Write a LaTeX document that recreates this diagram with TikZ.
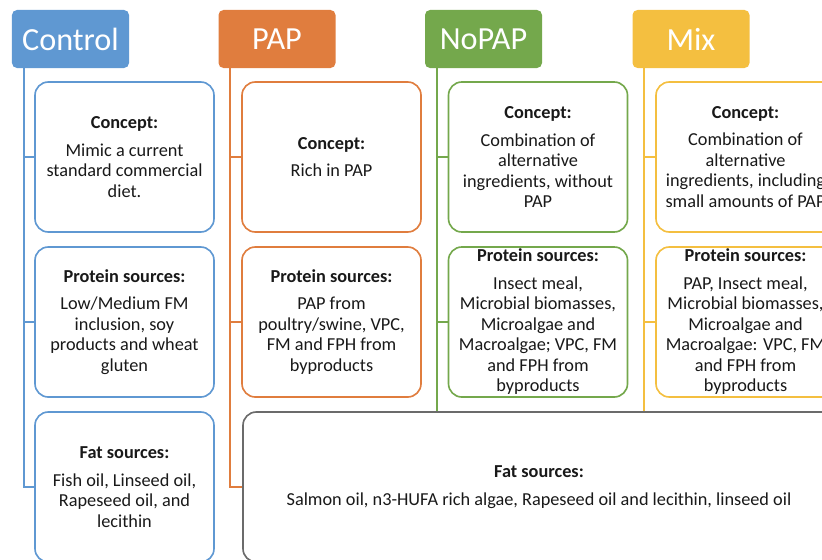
\documentclass[tikz,border=0pt]{standalone}
\usepackage{fontspec}
\setmainfont{Carlito}
\definecolor{ctrlblue}{HTML}{5F98D2}
\definecolor{paporange}{HTML}{E07D3E}
\definecolor{nopgreen}{HTML}{74A84C}
\definecolor{mixgold}{HTML}{F4BF40}
\definecolor{fatgray}{HTML}{6B6B6B}
\tikzset{
	head/.style={rounded corners=0.15cm,minimum width=3.51cm,minimum height=1.74cm,inner sep=0pt,text=white,font=\fontsize{27.5}{33}\selectfont},
	box/.style={draw,fill=white,line width=1.4pt,rounded corners=0.4cm,minimum width=5.37cm,minimum height=4.5cm,inner sep=0pt,align=center,text=black!90,font=\fontsize{15.6}{17.5}\selectfont},
	trunk/.style={line width=1.6pt},
}
\begin{document}
\begin{tikzpicture}[x=0.03cm,y=-0.03cm]
	\useasboundingbox (0,0) rectangle (822,559);
	\clip (0,0) rectangle (822,559);
	\node[head,fill=ctrlblue] (ctrl) at (70.5,39) {Control};
	\node[head,fill=paporange] (pap) at (277,39) {PAP};
	\node[head,fill=nopgreen] (nopap) at (483.5,39) {NoPAP};
	\node[head,fill=mixgold] (mix) at (691,39) {Mix};
	\coordinate (ctrlroot) at ([xshift=0.36cm]ctrl.south west);
	\coordinate (paproot) at ([xshift=0.36cm]pap.south west);
	\coordinate (noproot) at ([xshift=0.36cm]nopap.south west);
	\coordinate (mixroot) at ([xshift=0.36cm]mix.south west);
	\node[box,draw=ctrlblue] (ctrlconcept) at (124.5,157) {\textbf{Concept:}\\[6pt]Mimic a current\\standard commercial\\diet.};
	\node[box,draw=ctrlblue] (ctrlprot) at (124.5,322) {\textbf{Protein sources:}\\[6pt]Low/Medium FM\\inclusion, soy\\products and wheat\\gluten};
	\node[box,draw=ctrlblue] (ctrlfat) at (124.5,487) {\textbf{Fat sources:}\\[6pt]Fish oil, Linseed oil,\\Rapeseed oil, and\\lecithin};
	\node[box,draw=paporange] (papconcept) at (331.5,157) {\textbf{Concept:}\\[6pt]Rich in PAP};
	\node[box,draw=paporange] (papprot) at (331.5,322) {\textbf{Protein sources:}\\[6pt]PAP from\\poultry/swine, VPC,\\FM and FPH from\\byproducts};
	\node[box,draw=nopgreen] (nopconcept) at (538,157) {\textbf{Concept:}\\[6pt]Combination of\\alternative\\ingredients, without\\PAP};
	\node[box,draw=nopgreen] (nopprot) at (538,322) {\textbf{Protein sources:}\\[6pt]Insect meal,\\Microbial biomasses,\\Microalgae and\\Macroalgae; VPC, FM\\and FPH from\\byproducts};
	\node[box,draw=mixgold] (mixconcept) at (745.5,157) {\textbf{Concept:}\\[6pt]Combination of\\alternative\\ingredients, including\\small amounts of PAP};
	\node[box,draw=mixgold] (mixprot) at (745.5,322) {\textbf{Protein sources:}\\[6pt]PAP, Insect meal,\\Microbial biomasses,\\Microalgae and\\Macroalgae: VPC, FM\\and FPH from\\byproducts};
	\node[box,draw=fatgray,minimum width=17.76cm] (fat) at (539,487) {\textbf{Fat sources:}\\[6pt]Salmon oil, n3-HUFA rich algae, Rapeseed oil and lecithin, linseed oil};
	\draw[ctrlblue,trunk] (ctrlroot) |- (ctrlfat.west);
	\draw[ctrlblue,trunk] (ctrlroot) |- (ctrlprot.west);
	\draw[ctrlblue,trunk] (ctrlroot) |- (ctrlconcept.west);
	\draw[paporange,trunk] (paproot) |- (fat.west);
	\draw[paporange,trunk] (paproot) |- (papprot.west);
	\draw[paporange,trunk] (paproot) |- (papconcept.west);
	\draw[nopgreen,trunk] (noproot) -- (noproot |- fat.north);
	\draw[nopgreen,trunk] (noproot) |- (nopprot.west);
	\draw[nopgreen,trunk] (noproot) |- (nopconcept.west);
	\draw[mixgold,trunk] (mixroot) -- (mixroot |- fat.north);
	\draw[mixgold,trunk] (mixroot) |- (mixprot.west);
	\draw[mixgold,trunk] (mixroot) |- (mixconcept.west);
\end{tikzpicture}
\end{document}
